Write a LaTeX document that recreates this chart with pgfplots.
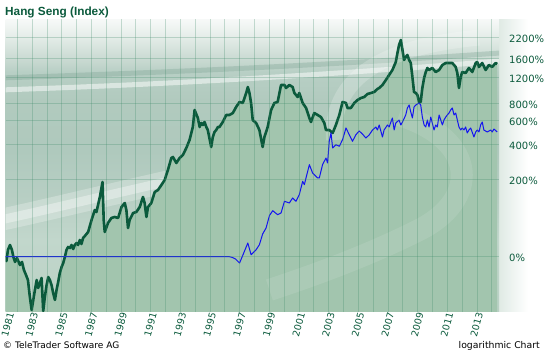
\documentclass[border=0pt]{standalone}
\usepackage{pgfplots}
\usepackage{pgfplotstable}
\pgfplotsset{compat=1.18}
\usepackage{fontspec}
\setmainfont{DejaVu Sans}
\newfontfamily\arialfont{Liberation Sans}
\definecolor{hsgreen}{HTML}{0B5A3C}
\definecolor{hsfill}{HTML}{A2C5AE}
\definecolor{hsblue}{HTML}{1414F0}
\definecolor{gridc}{HTML}{3D8A68}
\definecolor{bgA}{HTML}{B9D1C4}
\definecolor{bgB}{HTML}{C2D7CC}
\definecolor{bgC}{HTML}{B8CFC4}
\definecolor{bgD}{HTML}{AFC9BD}
\definecolor{bgE}{HTML}{B1CABE}
\definecolor{bgF}{HTML}{B8CFC5}
\definecolor{bgG}{HTML}{C8D9D1}
\definecolor{bgH}{HTML}{E6EEEA}
\definecolor{bgI}{HTML}{F7F9F8}
\definecolor{streak}{HTML}{7FA595}
\pgfdeclareverticalshading{plotbg}{100bp}{color(0bp)=(bgA); color(25bp)=(bgA); color(37.3bp)=(bgB); color(44bp)=(bgC); color(52.6bp)=(bgD); color(61.2bp)=(bgE); color(66bp)=(bgF); color(68bp)=(bgG); color(72.3bp)=(bgH); color(75bp)=(bgI); color(100bp)=(bgI)}

\pgfplotstableread{
yr v
1981.22 99.4
1981.27 93.5
1981.37 109.5
1981.51 117.6
1981.64 109.5
1981.74 99.0
1981.85 92.2
1981.98 97.6
1982.18 88.3
1982.32 92.2
1982.45 82.2
1982.59 76.5
1982.72 71.2
1982.85 55.8
1982.97 46.3
1983.08 53.5
1983.19 61.7
1983.31 71.2
1983.41 63.5
1983.53 68.2
1983.64 73.3
1983.75 45.6
1983.86 55.8
1983.98 66.3
1984.09 74.3
1984.20 71.2
1984.31 66.3
1984.42 59.1
1984.54 53.5
1984.65 61.7
1984.76 69.2
1984.87 78.7
1984.99 85.8
1985.10 90.8
1985.21 99.0
1985.32 109.5
1985.43 114.3
1985.55 112.6
1985.66 117.6
1985.77 111.0
1985.88 117.6
1986.00 121.0
1986.10 117.6
1986.22 126.3
1986.33 119.3
1986.44 130.0
1986.56 133.8
1986.78 141.7
1987.01 168.3
1987.23 194.2
1987.34 188.7
1987.57 234.0
1987.75 290.2
1987.83 168.3
1987.90 141.7
1988.12 161.2
1988.35 173.2
1988.57 175.7
1988.80 173.2
1989.03 202.8
1989.25 214.7
1989.36 194.2
1989.47 150.0
1989.58 168.3
1989.81 186.0
1990.03 188.7
1990.26 202.8
1990.48 234.0
1990.59 214.7
1990.71 175.7
1990.82 202.8
1991.04 214.7
1991.27 251.4
1991.49 258.7
1991.72 277.9
1991.94 298.6
1992.16 344.6
1992.39 409.3
1992.50 415.3
1992.73 381.0
1992.95 409.3
1993.17 427.3
1993.40 472.4
1993.62 529.9
1993.84 638.4
1993.96 814.6
1994.18 726.4
1994.30 638.4
1994.41 676.1
1994.52 657.0
1994.63 685.8
1994.75 638.4
1994.85 611.5
1995.08 479.3
1995.19 553.2
1995.30 594.2
1995.42 611.5
1995.53 638.4
1995.64 638.4
1995.86 685.8
1996.09 758.3
1996.31 758.3
1996.54 780.3
1996.76 850.4
1996.99 913.6
1997.21 900.6
1997.44 1039.4
1997.55 1132.7
1997.66 1039.4
1997.77 900.6
1997.88 705.8
1998.11 676.1
1998.33 611.5
1998.55 479.3
1998.67 553.2
1998.89 638.4
1999.12 814.6
1999.34 900.6
1999.56 913.6
1999.79 1165.7
2000.02 1165.7
2000.13 1116.6
2000.35 1165.7
2000.57 1132.7
2000.69 1039.4
2000.91 981.4
2001.02 1039.4
2001.25 900.6
2001.48 838.4
2001.70 726.4
2001.81 685.8
2002.03 780.3
2002.26 758.3
2002.48 736.8
2002.71 676.1
2002.82 611.5
2003.04 611.5
2003.27 585.8
2003.49 657.0
2003.72 758.3
2003.94 913.6
2004.17 900.6
2004.27 838.4
2004.50 838.4
2004.73 900.6
2004.95 940.2
2005.18 967.4
2005.40 981.4
2005.62 1024.6
2005.85 1039.4
2006.07 1054.4
2006.29 1100.7
2006.41 1116.6
2006.63 1165.7
2006.86 1252.4
2007.08 1345.5
2007.30 1445.5
2007.53 1621.2
2007.64 1844.4
2007.75 2068.5
2007.87 2222.2
2007.98 1925.4
2008.09 1668.2
2008.20 1741.6
2008.31 1792.2
2008.43 1668.2
2008.54 1598.0
2008.65 1307.5
2008.76 1054.4
2008.88 1039.4
2008.99 1010.0
2009.10 913.6
2009.21 913.6
2009.32 1116.6
2009.44 1288.9
2009.55 1404.6
2009.66 1487.6
2009.77 1445.5
2009.99 1487.6
2010.22 1404.6
2010.45 1445.5
2010.67 1553.0
2010.90 1598.0
2011.12 1598.0
2011.34 1598.0
2011.57 1509.1
2011.68 1384.7
2011.79 1116.6
2011.91 1307.5
2012.01 1404.6
2012.24 1384.7
2012.46 1487.6
2012.69 1404.6
2012.92 1598.0
2013.02 1621.2
2013.14 1509.1
2013.36 1598.0
2013.59 1445.5
2013.81 1553.0
2014.03 1509.1
2014.26 1598.0
2014.37 1575.3
}\greendata

\pgfplotstableread{
yr v
1981.22 99.4
1996.31 99.4
1996.52 98.3
1996.72 96.2
1996.99 90.8
1997.19 100.4
1997.55 121.0
1997.77 102.3
1998.11 109.9
1998.33 118.1
1998.55 137.7
1998.78 150.0
1999.01 179.5
1999.23 192.3
1999.56 181.6
1999.79 186.0
2000.02 220.0
2000.35 214.7
2000.57 230.7
2000.80 220.0
2001.02 241.9
2001.25 293.1
2001.36 279.1
2001.70 371.9
2001.92 330.1
2002.26 307.3
2002.37 307.3
2002.59 371.9
2002.82 409.3
2002.93 381.0
2003.04 520.0
2003.16 585.8
2003.27 472.4
2003.49 495.3
2003.72 484.1
2003.94 532.1
2004.17 629.3
2004.39 571.7
2004.61 520.0
2004.84 571.7
2005.06 602.8
2005.28 577.4
2005.51 545.3
2005.73 569.2
2005.96 611.5
2006.19 638.4
2006.29 611.5
2006.41 657.0
2006.63 553.2
2006.74 611.5
2006.97 657.0
2007.08 638.4
2007.30 726.4
2007.42 611.5
2007.53 676.1
2007.75 705.8
2007.87 657.0
2007.98 685.8
2008.20 758.3
2008.31 838.4
2008.43 875.2
2008.54 791.6
2008.65 726.4
2008.76 850.4
2008.88 875.2
2009.10 900.6
2009.21 875.2
2009.32 736.8
2009.44 657.0
2009.55 638.4
2009.66 705.8
2009.77 638.4
2009.89 736.8
2009.99 676.1
2010.11 611.5
2010.22 657.0
2010.33 638.4
2010.45 758.3
2010.56 705.8
2010.67 657.0
2010.78 705.8
2010.90 736.8
2011.00 758.3
2011.12 780.3
2011.23 814.6
2011.34 838.4
2011.46 758.3
2011.57 780.3
2011.79 638.4
2011.91 611.5
2012.01 629.3
2012.13 611.5
2012.24 638.4
2012.35 585.8
2012.46 611.5
2012.58 629.3
2012.80 553.2
2012.92 594.2
2013.02 611.5
2013.14 594.2
2013.25 657.0
2013.36 685.8
2013.47 611.5
2013.70 594.2
2013.93 611.5
2014.03 594.2
2014.15 620.3
2014.37 594.2
}\bluedata

\begin{document}
\begin{tikzpicture}[x=1pt,y=1pt]
\useasboundingbox (0,0) rectangle (544,353);
\shade[left color=bgA!45, right color=white] (499,41) rectangle (528,333.7);
\shade[shading=plotbg] (5.7,41) rectangle (499,333.7);
\begin{scope}
\clip (5.7,41) rectangle (499,333.7);
\draw[streak, opacity=0.35, line width=5pt] (0,275) .. controls (150,280) and (300,286) .. (500,300);
\draw[white, opacity=0.5, line width=5pt] (0,263) .. controls (150,268) and (300,276) .. (500,292);
\draw[white, opacity=0.25, line width=22pt] (0,133) .. controls (80,150) and (200,182) .. (400,220);
\draw[white, opacity=0.35, line width=9pt] (0,133) .. controls (80,150) and (200,182) .. (400,220);
\end{scope}
\begin{axis}[
  at={(5.7pt,41pt)}, anchor=south west,
  scale only axis, width=493.3pt, height=292.7pt,
  axis on top,
  ymode=log,
  xmin=1981.22, xmax=2014.49, ymin=45, ymax=2990,
  axis line style={draw=none},
  xtick={1981,1983,...,2013},
  xticklabels={1981,1983,1985,1987,1989,1991,1993,1995,1997,1999,2001,2003,2005,2007,2009,2011,2013},
  minor xtick={1982,1984,...,2014},
  ytick={100,300,500,700,900,1300,1700,2300},
  yticklabels={0\%,200\%,400\%,600\%,800\%,1200\%,1600\%,2200\%},
  yticklabel pos=right,
  grid=both,
  major grid style={draw=gridc, draw opacity=0.28, line width=0.8pt},
  minor grid style={draw=gridc, draw opacity=0.28, line width=0.8pt},
  major tick length=0pt, minor tick length=0pt,
  tick style={draw=none},
  xticklabel style={rotate=75, anchor=east, inner sep=0pt, yshift=-3pt,
    font=\fontsize{9.5}{10}\selectfont, text=hsgreen},
  yticklabel style={anchor=west, inner sep=0pt, xshift=10pt, yshift=-1.5pt,
    font=\fontsize{10}{12}\selectfont, text=hsgreen},
]
\addplot[fill=hsfill, draw=none] table[x=yr,y=v]{\greendata} \closedcycle;
\draw[white, opacity=0.2, line width=16pt]
  (axis cs:2003.37,529.9) .. controls (axis cs:2003.04,1445.5) and (axis cs:2007.75,2068.5) .. (axis cs:2013.14,2300);
\draw[white, opacity=0.1, line width=22pt]
  (axis cs:2007.75,758.3) .. controls (axis cs:2013.14,529.9) and (axis cs:2013.14,224.2) .. (axis cs:2009.10,145.8)
  .. controls (axis cs:2005.06,94.8) and (axis cs:2001.02,71.2) .. (axis cs:1999.01,61.7);
\addplot[hsgreen, line width=2.6pt, line join=round] table[x=yr,y=v]{\greendata};
\addplot[hsblue, line width=1pt, line join=round] table[x=yr,y=v]{\bluedata};
\end{axis}
\node[rotate=75, anchor=east, inner sep=0pt, yshift=-3pt, font=\fontsize{9.5}{10}\selectfont, text=hsgreen] at (8,41) {1981};
\node[anchor=base west, inner sep=0pt, text=hsgreen,
  font=\arialfont\bfseries\fontsize{11.8}{14}\selectfont] at (5,337) {Hang Seng (Index)};
\node[anchor=base west, inner sep=0pt, font=\fontsize{9}{11}\selectfont] at (3,4) {© TeleTrader Software AG};
\node[anchor=base east, inner sep=0pt, font=\fontsize{9.3}{11}\selectfont] at (540,4) {logarithmic Chart};
\end{tikzpicture}
\end{document}
